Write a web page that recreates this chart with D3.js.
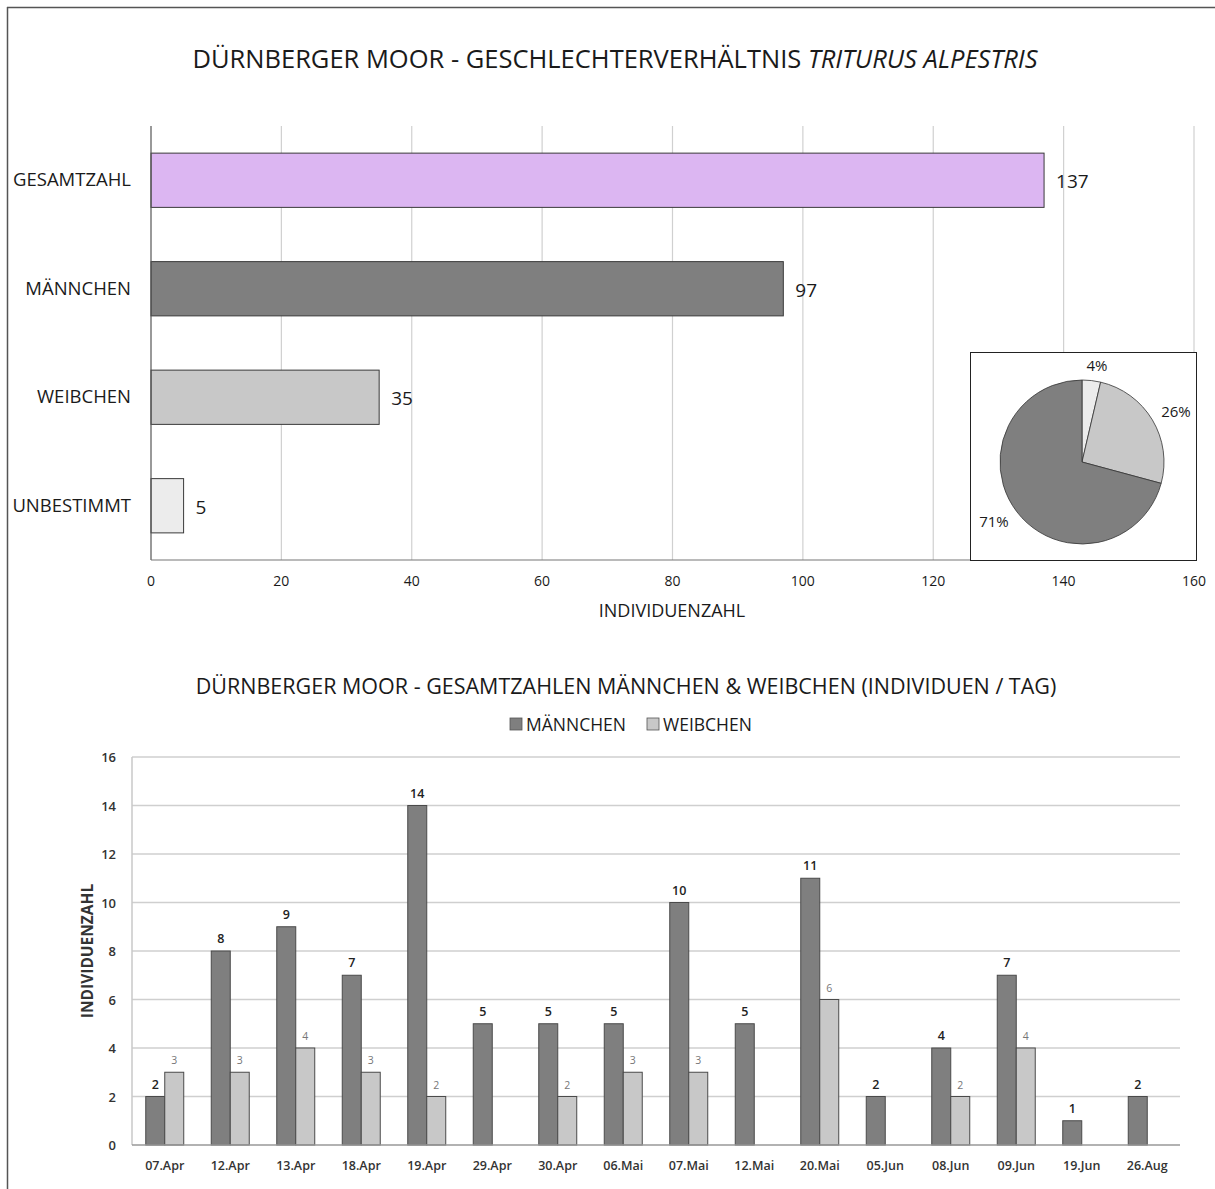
<!DOCTYPE html>
<html>
<head>
<meta charset="utf-8">
<script src="https://d3js.org/d3.v7.min.js"></script>
<style>
    body { margin: 0; padding: 0; background: #fff; }
    svg text { font-family: 'Open Sans', sans-serif; fill: #1a1a1a; }
</style>
</head>
<body>
<svg id="chart" width="1215" height="1189"></svg>
<script>
    // top chart: totals
    const sexCategories = ["GESAMTZAHL", "MÄNNCHEN", "WEIBCHEN", "UNBESTIMMT"];
    const sexCounts = [137, 97, 35, 5];
    const sexColors = ["#dcb6f2", "#7f7f7f", "#c8c8c8", "#ececec"];
    const countTicks = [0, 20, 40, 60, 80, 100, 120, 140, 160];

    // inset pie (unbestimmt, weibchen, männchen)
    const pieLabels = ["4%", "26%", "71%"];
    const pieValues = [5, 35, 97];
    const pieColors = ["#ececec", "#c8c8c8", "#7f7f7f"];

    // bottom chart: per day
    const days = ["07.Apr", "12.Apr", "13.Apr", "18.Apr", "19.Apr", "29.Apr", "30.Apr", "06.Mai",
                  "07.Mai", "12.Mai", "20.Mai", "05.Jun", "08.Jun", "09.Jun", "19.Jun", "26.Aug"];
    const males   = [2, 8, 9, 7, 14, 5, 5, 5, 10, 5, 11, 2, 4, 7, 1, 2];
    const females = [3, 3, 4, 3, 2, null, 2, 3, 3, null, 6, null, 2, 4, null, null];
    const dayTicks = [0, 2, 4, 6, 8, 10, 12, 14, 16];
    const seriesNames = ["MÄNNCHEN", "WEIBCHEN"];
    const seriesColors = ["#7f7f7f", "#c8c8c8"];

    const svg = d3.select("#chart");

    // frame (only top + left edge visible in the original crop)
    svg.append("line").attr("x1", 7).attr("x2", 1215).attr("y1", 7.5).attr("y2", 7.5)
        .attr("stroke", "#555").attr("stroke-width", 1.5);
    svg.append("line").attr("x1", 7.5).attr("x2", 7.5).attr("y1", 7).attr("y2", 1189)
        .attr("stroke", "#555").attr("stroke-width", 1.5);

    // ---------- top chart ----------
    svg.append("text").attr("x", 615).attr("y", 68).attr("text-anchor", "middle")
        .style("font-size", "25.5px")
        .html('DÜRNBERGER MOOR - GESCHLECHTERVERHÄLTNIS <tspan font-style="italic">TRITURUS ALPESTRIS</tspan>');

    const x1 = d3.scaleLinear().domain([0, 160]).range([151, 1194]);
    const y1 = d3.scaleBand().domain(sexCategories).range([126, 560]).paddingInner(0.5).paddingOuter(0.25);

    svg.append("g").selectAll("line").data(countTicks.slice(1)).join("line")
        .attr("x1", d => x1(d)).attr("x2", d => x1(d))
        .attr("y1", 126).attr("y2", 560)
        .attr("stroke", "#d0d0d0").attr("stroke-width", 1.2);

    svg.append("g").selectAll("rect").data(sexCounts).join("rect")
        .attr("x", x1(0)).attr("y", (d, i) => y1(sexCategories[i]))
        .attr("width", d => x1(d) - x1(0)).attr("height", y1.bandwidth())
        .attr("fill", (d, i) => sexColors[i]).attr("stroke", "#3a3a3a").attr("stroke-width", 1);

    svg.append("line").attr("x1", x1(0)).attr("x2", x1(0)).attr("y1", 126).attr("y2", 560)
        .attr("stroke", "#555").attr("stroke-width", 1.2);
    svg.append("line").attr("x1", x1(0)).attr("x2", x1(160)).attr("y1", 560).attr("y2", 560)
        .attr("stroke", "#777").attr("stroke-width", 1.2);

    svg.append("g").selectAll("text").data(sexCategories).join("text")
        .attr("x", 131).attr("y", d => y1(d) + y1.bandwidth() / 2 + 6)
        .attr("text-anchor", "end").style("font-size", "18.5px").text(d => d);

    svg.append("g").selectAll("text").data(sexCounts).join("text")
        .attr("x", d => x1(d) + 12).attr("y", (d, i) => y1(sexCategories[i]) + y1.bandwidth() / 2 + 8)
        .style("font-size", "19px").text(d => d);

    svg.append("g").selectAll("text").data(countTicks).join("text")
        .attr("x", d => x1(d)).attr("y", 586).attr("text-anchor", "middle")
        .style("font-size", "14px").text(d => d);

    svg.append("text").attr("x", 672).attr("y", 617).attr("text-anchor", "middle")
        .style("font-size", "18px").text("INDIVIDUENZAHL");

    // inset pie
    svg.append("rect").attr("x", 970.5).attr("y", 352.5).attr("width", 226).attr("height", 208)
        .attr("fill", "#fff").attr("stroke", "#222").attr("stroke-width", 1);
    const pieG = svg.append("g").attr("transform", "translate(1082,462)");
    const arcs = d3.pie().sort(null)(pieValues);
    const arc = d3.arc().innerRadius(0).outerRadius(82);
    pieG.selectAll("path").data(arcs).join("path")
        .attr("d", arc).attr("fill", (d, i) => pieColors[i])
        .attr("stroke", "#333").attr("stroke-width", 0.8);
    const labelPos = [[15, -91], [94, -45], [-88, 65]];
    pieG.selectAll("text").data(pieLabels).join("text")
        .attr("x", (d, i) => labelPos[i][0]).attr("y", (d, i) => labelPos[i][1])
        .attr("text-anchor", "middle").style("font-size", "15px").text(d => d);

    // ---------- bottom chart ----------
    svg.append("text").attr("x", 626).attr("y", 694).attr("text-anchor", "middle")
        .style("font-size", "21.5px")
        .text("DÜRNBERGER MOOR -  GESAMTZAHLEN MÄNNCHEN & WEIBCHEN (INDIVIDUEN / TAG)");

    // legend
    const legendX = [510, 647];
    const legend = svg.append("g").selectAll("g").data(seriesNames).join("g")
        .attr("transform", (d, i) => `translate(${legendX[i]},718)`);
    legend.append("rect").attr("width", 12).attr("height", 12)
        .attr("fill", (d, i) => seriesColors[i]).attr("stroke", "#555").attr("stroke-width", 0.8);
    legend.append("text").attr("x", 16).attr("y", 12.5).style("font-size", "17.5px").text(d => d);

    const x2 = d3.scaleBand().domain(days).range([132, 1180]).paddingInner(0.42).paddingOuter(0.21);
    const y2 = d3.scaleLinear().domain([0, 16]).range([1145, 757]);

    svg.append("g").selectAll("line").data(dayTicks.slice(1)).join("line")
        .attr("x1", 132).attr("x2", 1180).attr("y1", d => y2(d)).attr("y2", d => y2(d))
        .attr("stroke", "#cfcfcf").attr("stroke-width", 1.5);
    svg.append("line").attr("x1", 132).attr("x2", 132).attr("y1", 757).attr("y2", 1145)
        .attr("stroke", "#c8c8c8").attr("stroke-width", 1.5);

    const bw = x2.bandwidth() / 2;
    const groups = [males, females];
    groups.forEach((vals, s) => {
        const data = days.map((d, i) => ({ day: d, v: vals[i] })).filter(d => d.v !== null);
        svg.append("g").selectAll("rect").data(data).join("rect")
            .attr("x", d => x2(d.day) + s * bw).attr("y", d => y2(d.v))
            .attr("width", bw).attr("height", d => y2(0) - y2(d.v))
            .attr("fill", seriesColors[s]).attr("stroke", "#4a4a4a").attr("stroke-width", 1);
        svg.append("g").selectAll("text").data(data).join("text")
            .attr("x", d => x2(d.day) + s * bw + bw / 2).attr("y", d => y2(d.v) - 8)
            .attr("text-anchor", "middle")
            .style("font-size", s === 0 ? "12.5px" : "10.5px")
            .style("font-weight", s === 0 ? "600" : "400")
            .style("fill", s === 0 ? "#222" : "#777")
            .text(d => d.v);
    });

    svg.append("line").attr("x1", 132).attr("x2", 1180).attr("y1", 1145).attr("y2", 1145)
        .attr("stroke", "#999").attr("stroke-width", 1.5);

    svg.append("g").selectAll("text").data(dayTicks).join("text")
        .attr("x", 116).attr("y", d => y2(d) + 5).attr("text-anchor", "end")
        .style("font-size", "13px").style("font-weight", "600").style("fill", "#333").text(d => d);

    svg.append("g").selectAll("text").data(days).join("text")
        .attr("x", d => x2(d) + x2.bandwidth() / 2).attr("y", 1170).attr("text-anchor", "middle")
        .style("font-size", "12.5px").style("font-weight", "600").style("fill", "#333").text(d => d);

    svg.append("text").attr("transform", "translate(93,951) rotate(-90)").attr("text-anchor", "middle")
        .style("font-size", "15.5px").style("font-weight", "700").style("fill", "#333").text("INDIVIDUENZAHL");
</script>
</body>
</html>
